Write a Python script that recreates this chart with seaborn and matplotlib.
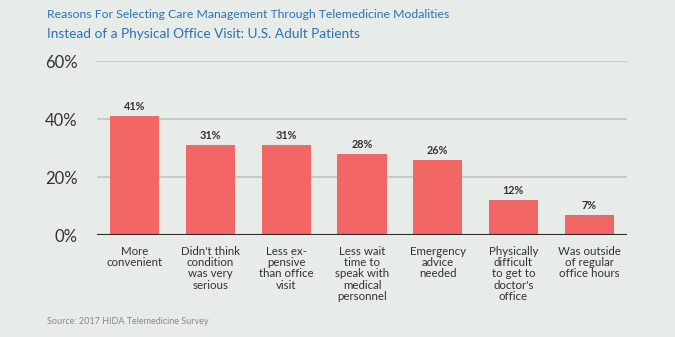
import matplotlib
matplotlib.use("Agg")
import matplotlib.pyplot as plt
import seaborn as sns
import pandas as pd

categories = [
    "More\nconvenient",
    "Didn't think\ncondition\nwas very\nserious",
    "Less ex-\npensive\nthan office\nvisit",
    "Less wait\ntime to\nspeak with\nmedical\npersonnel",
    "Emergency\nadvice\nneeded",
    "Physically\ndifficult\nto get to\ndoctor's\noffice",
    "Was outside\nof regular\noffice hours",
]
values = [41, 31, 31, 28, 26, 12, 7]
y_ticks = [0, 20, 40, 60]

BG = "#e8ece9"
BAR = "#f26666"
BLUE = "#2a72b8"
TXT = "#333333"

sns.set_theme(style="white")
plt.rcParams["font.family"] = ["Lato", "DejaVu Sans"]

df = pd.DataFrame({"reason": categories, "pct": values})

fig = plt.figure(figsize=(6.75, 3.37), dpi=100, facecolor=BG)
ax = fig.add_axes([97 / 675, 1 - 235 / 337, 530 / 675, 174 / 337])
ax.set_facecolor(BG)

sns.barplot(data=df, x="reason", y="pct", color=BAR, width=0.65,
            saturation=1, edgecolor="none", ax=ax, zorder=3)

ax.set_ylim(0, 60)
ax.set_yticks(y_ticks)
ax.set_yticklabels([f"{t}%" for t in y_ticks], fontsize=12, color=TXT)
for t in y_ticks[1:]:
    ax.axhline(t, color="#c2c6c3", lw=1.2, zorder=1)
ax.axhline(0, color="#2b2b2b", lw=1.5, zorder=4)

ax.set_xlabel("")
ax.set_ylabel("")
ax.tick_params(axis="x", length=0, pad=8, labelsize=8.3, labelcolor=TXT)
ax.tick_params(axis="y", length=0, pad=14)
for lbl in ax.get_xticklabels():
    lbl.set_verticalalignment("top")
    lbl.set_linespacing(1.02)
for s in ax.spines.values():
    s.set_visible(False)

for i, v in enumerate(values):
    ax.text(i, v + 1.3, f"{v}%", ha="center", va="bottom",
            fontsize=7.8, fontweight="bold", color=TXT)

fig.text(47 / 675, 1 - 15 / 337,
         "Reasons For Selecting Care Management Through Telemedicine Modalities",
         fontsize=8.8, color=BLUE, va="center", ha="left")
fig.text(47 / 675, 1 - 34 / 337,
         "Instead of a Physical Office Visit: U.S. Adult Patients",
         fontsize=9.8, color=BLUE, va="center", ha="left")
fig.text(47 / 675, 1 - 321 / 337, "Source: 2017 HIDA Telemedicine Survey",
         fontsize=6.5, color="#888888", va="center", ha="left")

fig.savefig("out.png", dpi=100, facecolor=BG)
